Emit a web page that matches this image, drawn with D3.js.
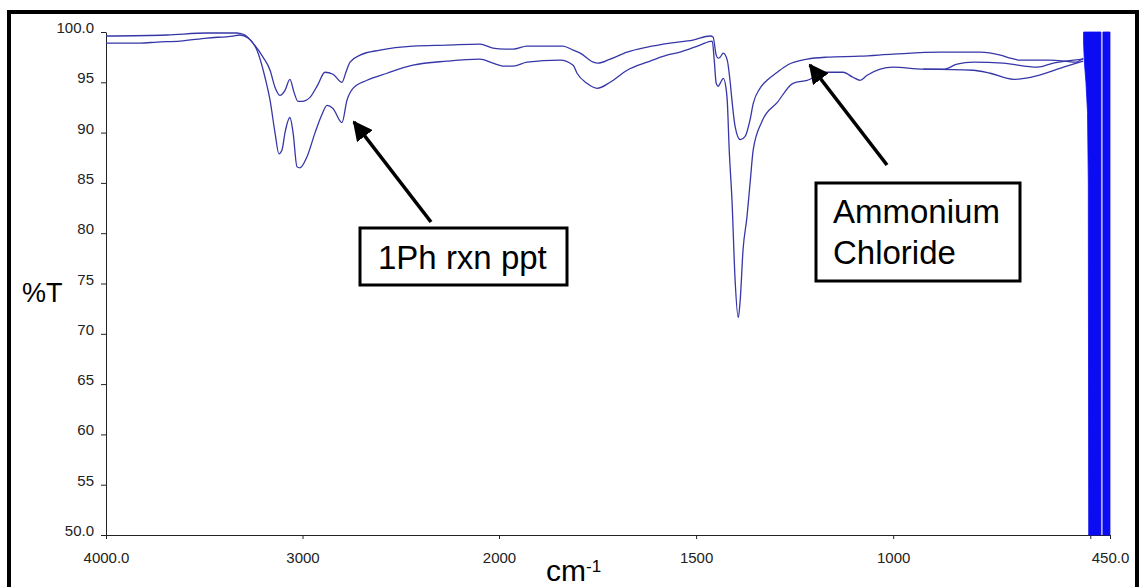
<!DOCTYPE html>
<html>
<head>
<meta charset="utf-8">
<script src="https://cdn.jsdelivr.net/npm/d3@7"></script>
<style>
  html, body { margin: 0; padding: 0; background: #fff; }
  svg { display: block; }
</style>
</head>
<body>
<svg id="chart" width="1140" height="587"></svg>
<script>
// ---- Data (wavenumber cm-1, %T) ----
const wnAC = [4000, 3690, 3486, 3333, 3318, 3293, 3252, 3201, 3165, 3140, 3115, 3089, 3064, 3043, 3023, 3003, 2962, 2921, 2886, 2845, 2799, 2779, 2758, 2707, 2606, 2438, 2265, 2097, 2031, 1985, 1964, 1929, 1838, 1812, 1794, 1761, 1749, 1718, 1675, 1624, 1566, 1508, 1464, 1457, 1449, 1444, 1439, 1431, 1421, 1414, 1409, 1401, 1388, 1376, 1363, 1355, 1338, 1320, 1294, 1269, 1218, 1168, 1084, 1000, 881, 779, 728, 703, 678, 602, 564, 538, 518];
const tAC = [99.6, 99.7, 99.9, 99.9, 99.85, 99.7, 98.9, 97.5, 96.2, 94.5, 93.7, 94.2, 95.3, 94.0, 93.1, 93.1, 93.5, 94.8, 96.0, 95.8, 95.0, 96.0, 97.0, 97.7, 98.2, 98.6, 98.7, 98.8, 98.4, 98.3, 98.3, 98.6, 98.6, 98.2, 97.9, 97.0, 96.9, 97.3, 98.0, 98.5, 98.9, 99.2, 99.6, 99.5, 97.7, 97.4, 97.5, 97.9, 97.2, 95.2, 93.2, 90.6, 89.3, 89.6, 91.3, 92.9, 94.4, 95.2, 96.0, 96.7, 97.3, 97.5, 97.6, 97.8, 98.0, 98.0, 97.7, 97.4, 97.2, 97.2, 97.1, 97.0, 97.4];

const wn1Ph = [4000, 3827, 3740, 3623, 3486, 3354, 3318, 3277, 3232, 3191, 3165, 3140, 3120, 3104, 3089, 3064, 3048, 3028, 3013, 2977, 2936, 2901, 2875, 2845, 2799, 2774, 2743, 2672, 2570, 2438, 2265, 2097, 2031, 1985, 1964, 1929, 1845, 1812, 1802, 1777, 1751, 1718, 1675, 1624, 1574, 1541, 1490, 1459, 1454, 1449, 1444, 1439, 1431, 1424, 1421, 1416, 1409, 1401, 1393, 1388, 1381, 1371, 1363, 1355, 1333, 1294, 1254, 1218, 1168, 1127, 1102, 1084, 1066, 1000, 924, 873, 838, 797, 721, 634, 594, 518];
const t1Ph = [98.9, 98.9, 99.0, 99.1, 99.4, 99.6, 99.7, 99.4, 98.2, 95.5, 93.2, 90.0, 87.9, 88.3, 90.0, 91.5, 90.0, 86.6, 86.5, 87.6, 90.0, 91.8, 92.7, 92.4, 91.0, 93.2, 94.4, 95.2, 95.9, 96.7, 97.1, 97.3, 96.9, 96.6, 96.6, 97.0, 97.2, 96.7, 95.9, 94.9, 94.4, 95.0, 96.2, 97.0, 97.7, 98.0, 98.7, 99.1, 97.2, 94.9, 94.6, 94.9, 95.4, 94.4, 93.2, 88.3, 83.3, 75.3, 71.6, 73.4, 78.3, 81.6, 85.0, 88.3, 91.1, 93.0, 94.9, 95.2, 96.0, 96.0, 95.5, 95.2, 95.7, 96.5, 96.3, 96.3, 96.8, 97.0, 96.9, 96.5, 96.9, 97.3];

const wnExtra = [924, 797, 754, 695, 652, 568, 518];
const tExtra = [96.3, 96.2, 95.9, 95.3, 95.5, 96.5, 97.1];

// noisy detector region (envelope of the saturated trace)
const band1Wn = [517, 515, 513, 511, 509, 507, 505, 504, 473];
const band1Low = [98.9, 97.0, 96.0, 95.0, 93.5, 92.0, 85.0, 50, 50];
const band1High = [100, 100, 100, 100, 100, 100, 100, 100, 100];
const band2Wn = [468, 450];
const band2Low = [50, 50];
const band2High = [100, 100];

const xTicks = [4000, 3000, 2000, 1500, 1000, 500, 450];
const xTickLabels = ["4000.0", "3000", "2000", "1500", "1000", "", "450.0"];
const yTicks = [50, 55, 60, 65, 70, 75, 80, 85, 90, 95, 100];
const yTickLabels = ["50.0", "55", "60", "65", "70", "75", "80", "85", "90", "95", "100.0"];

// ---- Drawing ----
const svg = d3.select("#chart");
const x = d3.scaleLinear().domain([4000, 2000, 450]).range([106, 499, 1110]);
const y = d3.scaleLinear().domain([50, 100]).range([535, 32]);

const font = "'Liberation Sans', Arial, sans-serif";

// outer frame
svg.append("rect").attr("x", 9).attr("y", 12).attr("width", 1128).attr("height", 620)
  .attr("fill", "none").attr("stroke", "#000").attr("stroke-width", 4);

// axes
const xAxis = d3.axisBottom(x).tickValues(xTicks).tickSize(4).tickSizeOuter(0)
  .tickFormat((d, i) => xTickLabels[i]);
const gx = svg.append("g").attr("transform", "translate(0,535)").call(xAxis);
gx.select(".domain").attr("stroke", "#222");
gx.selectAll(".tick line").attr("stroke", "#222");
gx.selectAll(".tick text").attr("font-family", font).attr("font-size", 15).attr("fill", "#222")
  .attr("dy", null).attr("y", 28);

const yAxis = d3.axisLeft(y).tickValues(yTicks).tickSize(5).tickSizeOuter(0)
  .tickFormat((d, i) => yTickLabels[i]);
const gy = svg.append("g").attr("transform", "translate(106,0)").call(yAxis);
gy.select(".domain").attr("stroke", "#222");
gy.selectAll(".tick line").attr("stroke", "#222");
gy.selectAll(".tick text").attr("font-family", font).attr("font-size", 15).attr("fill", "#222")
  .attr("dy", null).attr("x", -12).attr("y", 0.5);

// spectra
const line = d3.line().x(d => x(d[0])).y(d => y(d[1])).curve(d3.curveMonotoneX);
const series = [
  d3.zip(wnAC, tAC),
  d3.zip(wn1Ph, t1Ph),
  d3.zip(wnExtra, tExtra)
];
svg.append("g").selectAll("path").data(series).join("path")
  .attr("d", line).attr("fill", "none").attr("stroke", "#3636a8").attr("stroke-width", 1.3);

// saturated noisy region
const area = d3.area().x(d => x(d[0])).y0(d => y(d[1])).y1(d => y(d[2]));
const bands = [d3.zip(band1Wn, band1Low, band1High), d3.zip(band2Wn, band2Low, band2High)];
svg.append("g").selectAll("path").data(bands).join("path")
  .attr("d", area).attr("fill", "#0c0cf2").attr("stroke", "#0c0cf2").attr("stroke-width", 0.8);

// axis titles
svg.append("text").attr("x", 22).attr("y", 302).attr("font-family", font).attr("font-size", 27)
  .attr("fill", "#000").text("%T");
const xt = svg.append("text").attr("x", 546).attr("y", 581).attr("font-family", font)
  .attr("font-size", 30).attr("fill", "#000");
xt.append("tspan").text("cm");
xt.append("tspan").attr("font-size", 17).attr("dy", -9).text("-1");

// annotations
const defs = svg.append("defs");
defs.append("marker").attr("id", "ah").attr("viewBox", "0 0 10 10").attr("refX", 9).attr("refY", 5)
  .attr("markerWidth", 5.5).attr("markerHeight", 5.5).attr("markerUnits", "strokeWidth")
  .attr("orient", "auto").append("path").attr("d", "M0,0 L10,5 L0,10 Z").attr("fill", "#000");

function arrow(x1, y1, x2, y2) {
  svg.append("line").attr("x1", x1).attr("y1", y1).attr("x2", x2).attr("y2", y2)
    .attr("stroke", "#000").attr("stroke-width", 3.6).attr("marker-end", "url(#ah)");
}
arrow(431, 222, 354, 122);
arrow(887, 165, 810, 65);

svg.append("rect").attr("x", 360).attr("y", 228).attr("width", 207).attr("height", 57)
  .attr("fill", "#fff").attr("stroke", "#000").attr("stroke-width", 3);
svg.append("text").attr("x", 378).attr("y", 269).attr("font-family", font).attr("font-size", 33)
  .attr("fill", "#000").text("1Ph rxn ppt");

svg.append("rect").attr("x", 816).attr("y", 183).attr("width", 204).attr("height", 98)
  .attr("fill", "#fff").attr("stroke", "#000").attr("stroke-width", 3);
svg.append("text").attr("x", 833).attr("y", 223).attr("font-family", font).attr("font-size", 33)
  .attr("fill", "#000").text("Ammonium");
svg.append("text").attr("x", 833).attr("y", 264).attr("font-family", font).attr("font-size", 33)
  .attr("fill", "#000").text("Chloride");
</script>
</body>
</html>
